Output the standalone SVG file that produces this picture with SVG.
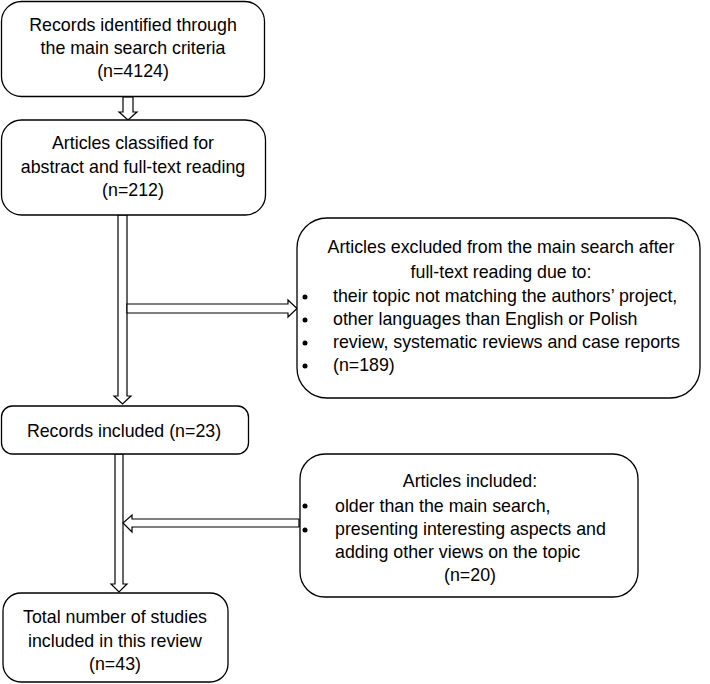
<svg xmlns="http://www.w3.org/2000/svg" width="710" height="684" viewBox="0 0 710 684">
<style>
.box{fill:#fff;stroke:#000;stroke-width:1.3}
.arr{fill:#fff;stroke:#000;stroke-width:1.2;stroke-linejoin:miter}
text{font-family:"Liberation Sans",Arial,sans-serif;font-size:17.8px;fill:#000}
.c{text-anchor:middle}
.dot{fill:#000}
</style>
<rect width="710" height="684" fill="#fff"/>
<g id="connectors">
<polygon class="arr" points="123,97 133,97 133,112 137,112 128,120 119,112 123,112"/>
<polygon class="arr" points="118,215 127,215 127,396 131,396 122.5,404 114,396 118,396"/>
<polygon class="arr" points="127,304 288,304 288,300 297,308.5 288,317 288,313 127,313"/>
<polygon class="arr" points="115,454 123,454 123,584 127,584 119,592 111,584 115,584"/>
<polygon class="arr" points="299,519 132,519 132,515 123,523 132,532 132,527 299,527"/>
</g>
<g id="n1">
<rect class="box" x="1.5" y="1.5" width="263" height="95" rx="20"/>
<text class="c" x="133" y="31">Records identified through</text>
<text class="c" x="133" y="54">the main search criteria</text>
<text class="c" x="133" y="77">(n=4124)</text>
</g>
<g id="n2">
<rect class="box" x="1.5" y="120" width="264" height="95" rx="20"/>
<text class="c" x="133" y="149">Articles classified for</text>
<text class="c" x="133" y="173">abstract and full-text reading</text>
<text class="c" x="133" y="196">(n=212)</text>
</g>
<g id="n3">
<rect class="box" x="297" y="218" width="403" height="180" rx="30"/>
<text class="c" x="501" y="253">Articles excluded from the main search after</text>
<text class="c" x="501" y="278">full-text reading due to:</text>
<circle class="dot" cx="305" cy="297" r="2.5"/>
<circle class="dot" cx="305" cy="320" r="2.5"/>
<circle class="dot" cx="305" cy="343" r="2.5"/>
<circle class="dot" cx="305" cy="366" r="2.5"/>
<text x="333" y="302">their topic not matching the authors’ project,</text>
<text x="333" y="325">other languages than English or Polish</text>
<text x="333" y="348">review, systematic reviews and case reports</text>
<text x="333" y="371">(n=189)</text>
</g>
<g id="n4">
<rect class="box" x="1.5" y="406" width="247" height="48" rx="11"/>
<text class="c" x="124" y="437">Records included (n=23)</text>
</g>
<g id="n5">
<rect class="box" x="300" y="454" width="338" height="143" rx="25"/>
<text class="c" x="470" y="487">Articles included:</text>
<circle class="dot" cx="305" cy="506" r="2.5"/>
<circle class="dot" cx="305" cy="530" r="2.5"/>
<text x="335" y="512">older than the main search,</text>
<text x="335" y="535">presenting interesting aspects and</text>
<text x="335" y="558">adding other views on the topic</text>
<text class="c" x="470" y="581">(n=20)</text>
</g>
<g id="n6">
<rect class="box" x="3" y="593" width="225" height="89" rx="18"/>
<text class="c" x="115" y="623">Total number of studies</text>
<text class="c" x="115" y="647">included in this review</text>
<text class="c" x="115" y="670">(n=43)</text>
</g>
</svg>
